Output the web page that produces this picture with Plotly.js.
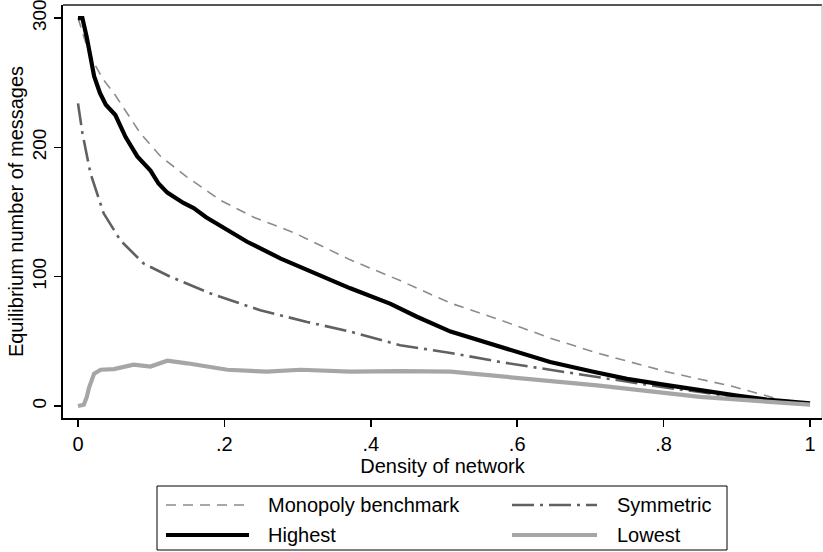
<!DOCTYPE html>
<html>
<head>
<meta charset="utf-8">
<script src="https://cdn.plot.ly/plotly-3.0.1.min.js"></script>
<style>html,body{margin:0;padding:0;background:#fff;}#chart{width:823px;height:552px;}</style>
</head>
<body>
<div id="chart"></div>
<script>
// ---- data ----
var seriesNames = ["Monopoly benchmark", "Symmetric", "Highest", "Lowest"];

var monopolyX = [0, 0.01, 0.022, 0.035, 0.049, 0.065, 0.085, 0.113, 0.149, 0.195, 0.24, 0.295, 0.34, 0.372, 0.44, 0.509, 0.577, 0.645, 0.709, 0.804, 0.895, 0.959, 1];
var monopolyY = [300, 282, 265, 252, 242, 228, 211, 193, 177, 159, 146, 134, 122, 113, 97, 79.5, 66.5, 52.5, 41, 26.5, 15, 5, 2];

var symmetricX = [0, 0.006, 0.017, 0.035, 0.058, 0.09, 0.126, 0.181, 0.249, 0.313, 0.372, 0.44, 0.509, 0.577, 0.645, 0.704, 0.8, 0.9, 1];
var symmetricY = [234, 211, 180, 149, 128, 110, 100, 87, 74, 65, 57.5, 47, 41, 34, 28, 23, 14.5, 7, 1];

var highestX = [0, 0.006, 0.012, 0.022, 0.03, 0.038, 0.051, 0.065, 0.081, 0.099, 0.11, 0.122, 0.144, 0.158, 0.175, 0.195, 0.231, 0.277, 0.317, 0.372, 0.427, 0.463, 0.509, 0.554, 0.6, 0.645, 0.704, 0.75, 0.8, 0.85, 0.9, 0.941, 1];
var highestY = [300, 300, 285, 255, 242, 233, 225, 208, 193, 182, 172, 165, 157, 153, 146, 139, 127, 114, 104, 91, 79, 69, 57.5, 50, 42, 34, 26.5, 21, 16.5, 12, 8, 5, 2];

var lowestX = [0, 0.008, 0.012, 0.015, 0.022, 0.031, 0.049, 0.076, 0.099, 0.11, 0.122, 0.149, 0.204, 0.258, 0.304, 0.372, 0.44, 0.509, 0.577, 0.645, 0.709, 0.85, 0.941, 1];
var lowestY = [0, 1, 7, 14, 25, 28, 28.5, 32, 30.5, 33, 35, 33, 28, 26.5, 28, 26.5, 27, 26.5, 23, 19.5, 16, 7, 3, 1];

var xTickVals = [0, 0.2, 0.4, 0.6, 0.8, 1];
var xTickText = ["0", ".2", ".4", ".6", ".8", "1"];
var yTickVals = [0, 100, 200, 300];
var yTickText = ["0", "100", "200", "300"];

// ---- styles ----
var styles = [
  {color: "#8c8c8c", width: 1.6, dash: "10px,7px"},
  {color: "#616161", width: 2.6, dash: "22px,6px,3px,6px"},
  {color: "#000000", width: 4.2, dash: "solid"},
  {color: "#a6a6a6", width: 4.2, dash: "solid"}
];
var xs = [monopolyX, symmetricX, highestX, lowestX];
var ys = [monopolyY, symmetricY, highestY, lowestY];

var traces = xs.map(function (x, i) {
  return {
    x: x, y: ys[i], name: seriesNames[i], type: "scatter", mode: "lines",
    line: {color: styles[i].color, width: styles[i].width, dash: styles[i].dash},
    showlegend: false, hoverinfo: "skip"
  };
});

// plot area in pixels
var L = 63, R = 822, T = 5, B = 418;
function px(x) { return (x - L) / (R - L); }
function py(y) { return (B - y) / (B - T); }

var FONT = "Liberation Sans, Arial, sans-serif";

// legend (manual, like the Stata legend box)
var legBox = {type: "rect", xref: "paper", yref: "paper",
  x0: px(157), x1: px(727), y0: py(550), y1: py(486),
  line: {color: "#000", width: 1}, fillcolor: "rgba(0,0,0,0)"};
var legPos = [
  {x0: 166, x1: 249, tx: 266, y: 505},
  {x0: 512, x1: 597, tx: 615, y: 505},
  {x0: 166, x1: 249, tx: 266, y: 535},
  {x0: 512, x1: 597, tx: 615, y: 535}
];
var shapes = [
  legBox,
  {type: "line", xref: "paper", yref: "paper", x0: 0, x1: 1, y0: 1, y1: 1, line: {color: "#555", width: 2}},
  {type: "line", xref: "paper", yref: "paper", x0: 1, x1: 1, y0: 0, y1: 1, line: {color: "#b0b0b0", width: 1}}
];
var annotations = [];
legPos.forEach(function (p, i) {
  shapes.push({type: "line", xref: "paper", yref: "paper",
    x0: px(p.x0), x1: px(p.x1), y0: py(p.y), y1: py(p.y),
    line: {color: styles[i].color, width: styles[i].width, dash: styles[i].dash}});
  annotations.push({xref: "paper", yref: "paper", x: px(p.tx), y: py(p.y),
    xanchor: "left", yanchor: "middle", showarrow: false, text: seriesNames[i],
    font: {family: FONT, size: 20, color: "#000"}});
});

var layout = {
  width: 823, height: 552,
  margin: {l: L, r: 823 - R, t: T, b: 552 - B, pad: 0},
  paper_bgcolor: "#fff", plot_bgcolor: "#fff",
  font: {family: FONT, size: 20, color: "#000"},
  showlegend: false,
  xaxis: {
    range: [-0.0205, 1.0164], tickvals: xTickVals, ticktext: xTickText,
    showgrid: false, zeroline: false, showline: true, linecolor: "#000", linewidth: 2,
    ticks: "outside", ticklen: 7, tickwidth: 1.5, tickcolor: "#000",
    ticklabeloverflow: "allow",
    tickfont: {family: FONT, size: 20, color: "#000"},
    title: {text: "Density of network", font: {family: FONT, size: 20, color: "#000"}, standoff: 0},
    automargin: false
  },
  yaxis: {
    range: [-9.3, 310.1], tickvals: yTickVals, ticktext: yTickText, tickangle: -90,
    showgrid: false, zeroline: false, showline: true, linecolor: "#000", linewidth: 2,
    ticks: "outside", ticklen: 7, tickwidth: 1.5, tickcolor: "#000",
    ticklabeloverflow: "allow",
    tickfont: {family: FONT, size: 19, color: "#000"},
    title: {text: "Equilibrium number of messages", font: {family: FONT, size: 20, color: "#000"}, standoff: 0},
    automargin: false
  },
  shapes: shapes,
  annotations: annotations
};

Plotly.newPlot("chart", traces, layout, {staticPlot: true, displayModeBar: false});
</script>
</body>
</html>
